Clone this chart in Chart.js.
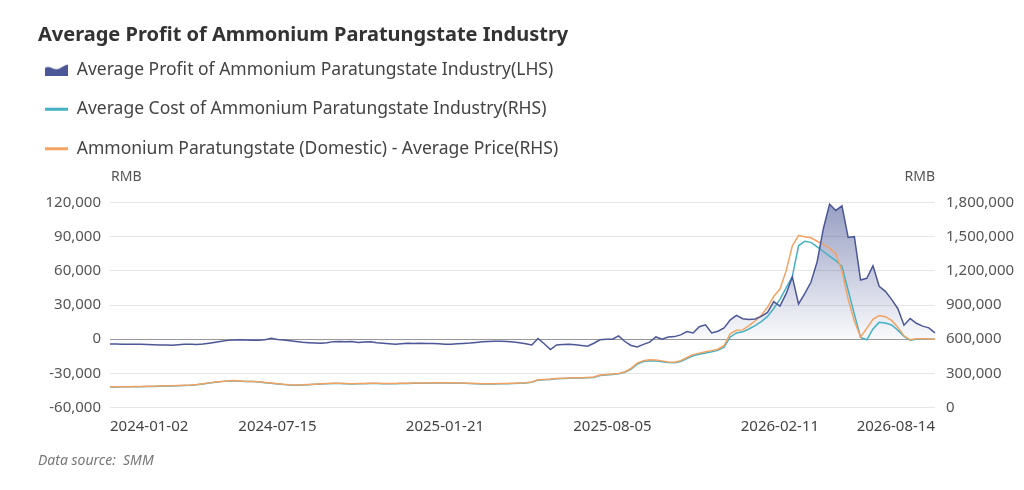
<!DOCTYPE html>
<html>
<head>
<meta charset="utf-8">
<script src="https://cdn.jsdelivr.net/npm/chart.js@4.4.1/dist/chart.umd.min.js"></script>
<style>
  html, body { margin: 0; padding: 0; background: #ffffff; }
  #wrap { width: 1024px; height: 490px; position: relative; }
</style>
</head>
<body>
<div id="wrap"><canvas id="c" width="1024" height="490"></canvas></div>
<script>
const chartTitle = 'Average Profit of Ammonium Paratungstate Industry';
const seriesNames = [
  'Average Profit of Ammonium Paratungstate Industry(LHS)',
  'Average Cost of Ammonium Paratungstate Industry(RHS)',
  'Ammonium Paratungstate (Domestic) - Average Price(RHS)'
];
const unitLabel = 'RMB';
const sourceText = 'Data source:  SMM';
const shownDates = ['2024-01-02', '2024-07-15', '2025-01-21', '2025-08-05', '2026-02-11', '2026-08-14'];
const leftTicks = [-60000, 120000, 30000];
const rightTicks = [0, 1800000, 300000];

const dates = [
  '2024-01-02','2024-01-09','2024-01-16','2024-01-23','2024-01-30','2024-02-06','2024-02-20','2024-02-27','2024-03-05','2024-03-12',
  '2024-03-19','2024-03-26','2024-04-02','2024-04-09','2024-04-16','2024-04-23','2024-04-30','2024-05-07','2024-05-14','2024-05-21',
  '2024-05-28','2024-06-04','2024-06-11','2024-06-18','2024-06-25','2024-07-02','2024-07-09','2024-07-15','2024-07-22','2024-07-29',
  '2024-08-05','2024-08-12','2024-08-19','2024-08-26','2024-09-02','2024-09-09','2024-09-16','2024-09-23','2024-09-30','2024-10-08',
  '2024-10-14','2024-10-21','2024-10-28','2024-11-04','2024-11-11','2024-11-18','2024-11-25','2024-12-02','2024-12-09','2024-12-16',
  '2024-12-23','2024-12-30','2025-01-06','2025-01-13','2025-01-21','2025-02-04','2025-02-11','2025-02-18','2025-02-25','2025-03-04',
  '2025-03-11','2025-03-18','2025-03-25','2025-04-01','2025-04-08','2025-04-15','2025-04-22','2025-04-29','2025-05-06','2025-05-13',
  '2025-05-20','2025-05-27','2025-06-03','2025-06-10','2025-06-17','2025-06-24','2025-07-01','2025-07-08','2025-07-15','2025-07-22',
  '2025-07-29','2025-08-05','2025-08-12','2025-08-19','2025-08-26','2025-09-02','2025-09-09','2025-09-16','2025-09-23','2025-09-30',
  '2025-10-09','2025-10-14','2025-10-21','2025-10-28','2025-11-04','2025-11-11','2025-11-18','2025-11-25','2025-12-02','2025-12-09',
  '2025-12-16','2025-12-23','2025-12-30','2026-01-06','2026-01-13','2026-01-20','2026-01-27','2026-02-03','2026-02-11','2026-02-25',
  '2026-03-04','2026-03-11','2026-03-18','2026-03-25','2026-04-01','2026-04-08','2026-04-15','2026-04-22','2026-04-29','2026-05-06',
  '2026-05-13','2026-05-20','2026-05-27','2026-06-03','2026-06-10','2026-06-17','2026-06-24','2026-07-01','2026-07-08','2026-07-15',
  '2026-07-22','2026-07-29','2026-08-05','2026-08-14'
];

const profit = [
  -4200,-4200,-4300,-4300,-4400,-4500,-4700,-4800,-5000,-5100,
  -5200,-4800,-4500,-4400,-4600,-4200,-3500,-2700,-1800,-1000,
  -600,-500,-600,-800,-900,-500,900,-200,-700,-1300,
  -2000,-2700,-3000,-3200,-3600,-3000,-2100,-2000,-2300,-2100,
  -2900,-2500,-2200,-3000,-3500,-4000,-4400,-4000,-3600,-3700,
  -3600,-3800,-3800,-4000,-4300,-4300,-4000,-3700,-3400,-2800,
  -2200,-1900,-1800,-1700,-2000,-2500,-3100,-4000,-5000,600,
  -4000,-9000,-5000,-4700,-4500,-4800,-5400,-6100,-3500,-500,
  0,0,2900,-2000,-5500,-6800,-4500,-2500,2000,0,
  2000,2300,3800,6700,5500,11000,12600,5500,7000,10000,
  17000,21000,18000,17300,17800,20000,23500,33000,29000,40000,
  54700,31000,40000,50000,68000,97000,118500,113000,117000,89300,
  90000,52000,53500,64400,46500,42000,35000,27000,12300,18100,
  14000,11500,10000,5600
];

const cost = [
  181000,181000,182000,182000,183000,184000,185000,186000,187000,189000,
  190000,192000,194000,196000,201000,208000,215000,222000,228000,233000,
  235000,231000,228000,228000,224000,219000,214000,208000,202000,198000,
  197000,198000,201000,204000,207000,210000,211000,211000,209000,208000,
  209000,210000,211000,211000,210000,210000,210000,211000,212000,213000,
  213000,214000,215000,215000,216000,215000,214000,213000,211000,209000,
  208000,208000,208000,209000,210000,211000,213000,216000,222000,241000,
  244000,247000,253000,255000,257000,259000,260000,262000,265000,282000,
  287000,291000,296000,310000,338000,382000,405000,412000,410000,402000,
  395000,393000,405000,430000,455000,468000,480000,490000,502000,530000,
  620000,655000,665000,690000,720000,755000,800000,870000,950000,1050000,
  1150000,1420000,1460000,1450000,1410000,1370000,1330000,1290000,1240000,1030000,
  820000,615000,595000,690000,748000,743000,725000,680000,625000,592000,
  600000,602000,602000,600000
];

const price = [
  183000,183000,184000,184000,185000,186000,187000,188000,189000,191000,
  192000,194000,196000,198000,203000,210000,217000,224000,230000,235000,
  237000,233000,230000,230000,226000,221000,216000,210000,204000,200000,
  199000,200000,203000,206000,209000,212000,213000,213000,211000,210000,
  211000,212000,213000,213000,212000,212000,212000,213000,214000,215000,
  215000,216000,217000,217000,218000,217000,216000,215000,213000,211000,
  210000,210000,210000,211000,212000,213000,215000,218000,225000,244000,
  247000,250000,256000,258000,260000,262000,263000,265000,268000,286000,
  291000,295000,300000,315000,345000,390000,412000,420000,418000,410000,
  400000,398000,412000,440000,465000,478000,490000,500000,512000,545000,
  650000,678000,682000,720000,760000,810000,880000,975000,1040000,1200000,
  1420000,1510000,1500000,1490000,1460000,1430000,1400000,1350000,1200000,950000,
  760000,620000,695000,775000,808000,798000,765000,706000,630000,595000,
  605000,605000,603000,600000
];

const COL_PROFIT = '#4b5796';
const COL_COST = '#44b0c4';
const COL_PRICE = '#f4a262';
const FONT = "'Noto Sans', 'Open Sans', sans-serif";

// legend icon for area series
const areaIcon = document.createElement('canvas');
areaIcon.width = 23; areaIcon.height = 12;
(function(){
  const g = areaIcon.getContext('2d');
  g.fillStyle = COL_PROFIT;
  g.beginPath();
  g.moveTo(0, 4);
  g.bezierCurveTo(5, 1, 9, 7, 14, 5);
  g.bezierCurveTo(18, 3, 20, 1, 23, 1);
  g.lineTo(23, 12);
  g.lineTo(0, 12);
  g.closePath();
  g.fill();
})();

const legendShift = {
  id: 'legendShift',
  beforeInit(chart) {
    const fit = chart.legend.fit;
    chart.legend.fit = function() {
      fit.bind(chart.legend)();
      this.height += 19;
    };
  },
  afterLayout(chart) {
    const lg = chart.legend;
    lg.left -= 15; lg.right -= 15;
    lg.top -= 16; lg.bottom -= 16;
  }
};

const unitPlugin = {
  id: 'unitLabels',
  afterDraw(chart) {
    const {ctx, chartArea} = chart;
    ctx.save();
    ctx.font = "14px " + FONT;
    ctx.fillStyle = '#555555';
    ctx.textBaseline = 'middle';
    ctx.textAlign = 'left';
    ctx.fillText(unitLabel, chartArea.left + 1, chartArea.top - 25);
    ctx.textAlign = 'right';
    ctx.fillText(unitLabel, chartArea.right, chartArea.top - 25);
    ctx.restore();
  }
};

const shownSet = new Set(shownDates);

new Chart(document.getElementById('c'), {
  type: 'line',
  data: {
    labels: dates,
    datasets: [
      {
        label: seriesNames[0],
        data: profit,
        yAxisID: 'y',
        order: 0,
        borderColor: COL_PROFIT,
        borderWidth: 1.5,
        pointRadius: 0,
        pointStyle: areaIcon,
        tension: 0,
        fill: 'origin',
        backgroundColor: (ctx) => {
          const chart = ctx.chart;
          const ca = chart.chartArea;
          if (!ca) return 'rgba(75,87,150,0.2)';
          const y0 = chart.scales.y.getPixelForValue(0);
          const g = chart.ctx.createLinearGradient(0, ca.top, 0, y0);
          g.addColorStop(0, 'rgba(75,87,150,0.58)');
          g.addColorStop(1, 'rgba(75,87,150,0.03)');
          return g;
        }
      },
      {
        label: seriesNames[1],
        data: cost,
        yAxisID: 'y1',
        order: 2,
        borderColor: COL_COST,
        backgroundColor: COL_COST,
        borderWidth: 1.5,
        pointRadius: 0,
        pointStyle: 'line',
        tension: 0,
        fill: false
      },
      {
        label: seriesNames[2],
        data: price,
        yAxisID: 'y1',
        order: 1,
        borderColor: COL_PRICE,
        backgroundColor: COL_PRICE,
        borderWidth: 1.5,
        pointRadius: 0,
        pointStyle: 'line',
        tension: 0,
        fill: false
      }
    ]
  },
  plugins: [legendShift, unitPlugin],
  options: {
    responsive: false,
    animation: false,
    layout: { padding: { top: 10, left: 38, right: 0, bottom: 10 } },
    plugins: {
      filler: { drawTime: 'beforeDatasetsDraw' },
      tooltip: { enabled: false },
      title: {
        display: true,
        text: chartTitle,
        align: 'start',
        color: '#333333',
        font: { family: FONT, size: 20, weight: 'bold', lineHeight: 1.2 },
        padding: { top: 13, bottom: 8 }
      },
      legend: {
        display: true,
        position: 'top',
        align: 'start',
        labels: {
          usePointStyle: true,
          pointStyleWidth: 23,
          boxHeight: 12,
          padding: 22,
          color: '#444444',
          font: { family: FONT, size: 17.5 },
          sort: (a, b) => a.datasetIndex - b.datasetIndex,
          generateLabels(chart) {
            const items = Chart.defaults.plugins.legend.labels.generateLabels(chart);
            items.forEach(it => { it.lineWidth = 3; });
            return items;
          }
        }
      },
      subtitle: {
        display: true,
        position: 'bottom',
        align: 'start',
        text: sourceText,
        color: '#777777',
        font: { family: FONT, size: 14, style: 'italic', lineHeight: 1.2 },
        padding: { top: 7, bottom: 10.6 }
      }
    },
    scales: {
      x: {
        type: 'category',
        offset: false,
        grid: { display: false, drawTicks: false },
        border: { display: false },
        ticks: {
          autoSkip: false,
          maxRotation: 0,
          minRotation: 0,
          align: 'inner',
          padding: 10,
          color: '#444444',
          font: { family: FONT, size: 15 },
          callback: function(value, index) {
            const lbl = this.getLabelForValue(value);
            return shownSet.has(lbl) ? lbl : '';
          }
        }
      },
      y: {
        position: 'left',
        min: leftTicks[0],
        max: leftTicks[1],
        border: { display: false },
        grid: {
          drawTicks: false,
          lineWidth: 1,
          color: (c) => (c.tick && c.tick.value === 0) ? '#9a9a9a' : '#e6e6e6'
        },
        ticks: {
          stepSize: leftTicks[2],
          padding: 9,
          color: '#555555',
          font: { family: FONT, size: 15 }
        },
        afterFit(scale) { scale.width = 72; }
      },
      y1: {
        position: 'right',
        min: rightTicks[0],
        max: rightTicks[1],
        border: { display: false },
        grid: { drawOnChartArea: false, drawTicks: false },
        ticks: {
          stepSize: rightTicks[2],
          padding: 11,
          color: '#555555',
          font: { family: FONT, size: 15 }
        },
        afterFit(scale) { scale.width = 89; }
      }
    }
  }
});
</script>
</body>
</html>
